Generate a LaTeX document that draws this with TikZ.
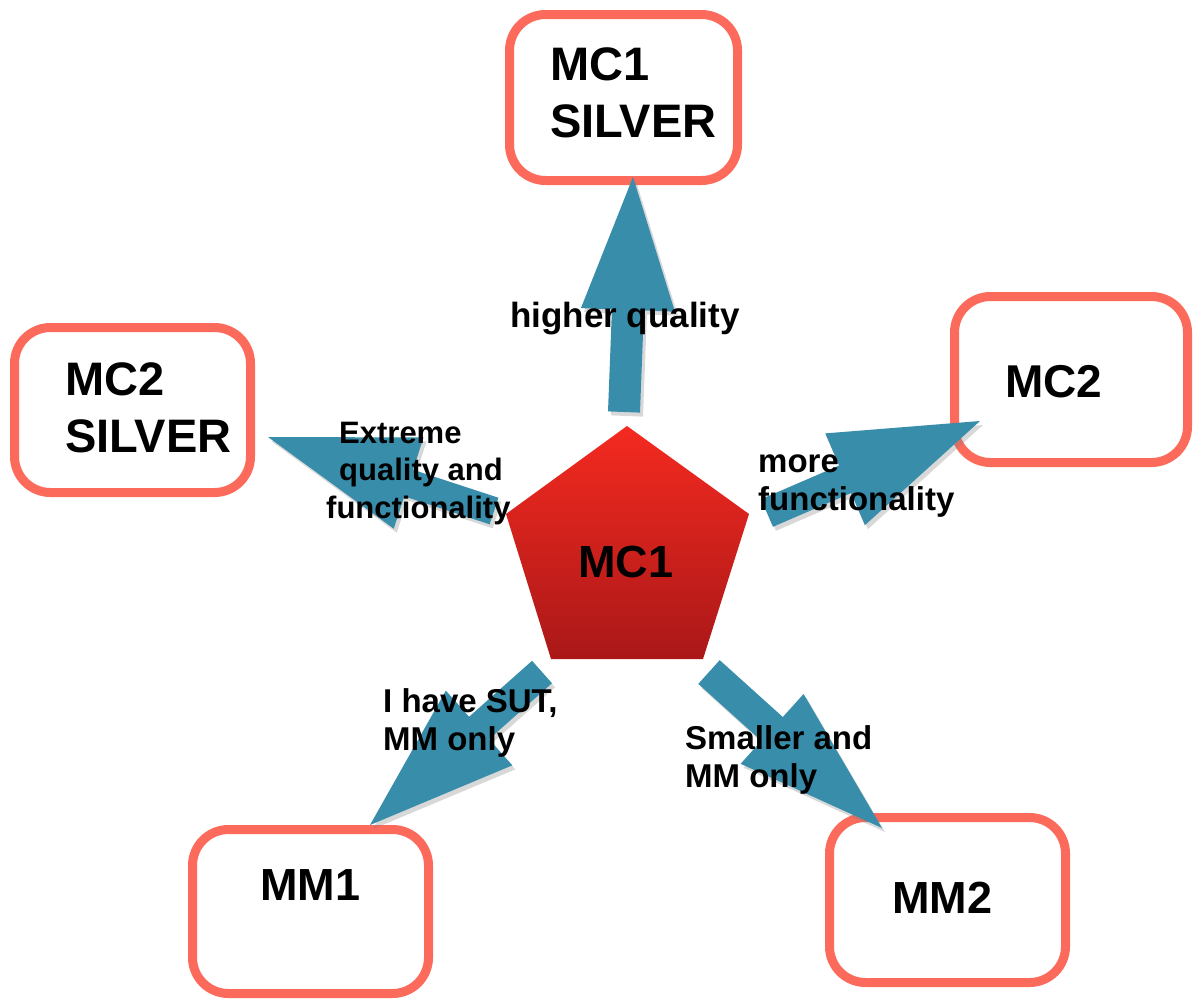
\documentclass[tikz,border=0pt]{standalone}
\usepackage{fontspec}
\setmainfont{Liberation Sans}
\usetikzlibrary{calc,shadows}
\definecolor{boxline}{RGB}{252,106,92}
\definecolor{arrowblue}{RGB}{56,141,170}
\definecolor{pentop}{RGB}{244,42,32}
\definecolor{penbot}{RGB}{170,24,24}
% #1 tail, #2 tip, #3 head length, #4 head half width, #5 shaft half width, #6 name of base point
\newcommand\blockarrow[6]{%
  \coordinate (#6) at ($(#2)!#3!(#1)$);
  \fill[arrowfill] ($(#1)!#5!90:(#2)$) -- ($(#6)!#5!90:(#2)$) -- ($(#6)!#4!90:(#2)$) -- (#2)
     -- ($(#6)!#4!-90:(#2)$) -- ($(#6)!#5!-90:(#2)$) -- ($(#1)!#5!-90:(#2)$) -- cycle;
}
\begin{document}
\begin{tikzpicture}[x=1pt,y=-1pt,
  box/.style={draw=boxline, line width=9pt, rounded corners=36pt, fill=white, inner sep=0pt},
  title/.style={font=\fontsize{45}{57}\selectfont\bfseries, inner sep=0pt, anchor=base west, align=left},
  bigtitle/.style={title, font=\fontsize{47}{57}\selectfont\bfseries},
  lbl/.style={font=\fontsize{33}{38}\selectfont\bfseries, inner sep=0pt, anchor=base west, align=left},
  arrowfill/.style={fill=arrowblue, drop shadow={shadow xshift=3pt, shadow yshift=-4pt, opacity=0.3}}]
\useasboundingbox[fill=white] (0,0) rectangle (1193,999);

% boxes
\node[box, minimum width=228pt, minimum height=166pt] (mc1s) at (623.5,97.5) {};
\node[box, minimum width=236pt, minimum height=165pt] (mc2s) at (132.5,410) {};
\node[box, minimum width=233pt, minimum height=166pt] (mc2) at (1071,379.5) {};
\node[box, minimum width=236pt, minimum height=164pt] (mm1) at (310.5,911.5) {};
\node[box, minimum width=236pt, minimum height=165pt] (mm2) at (947.5,900) {};

% (base anchor of a multi-line node = baseline of its last line)
\node[bigtitle] (t-mc1s) at (550,137) {MC1\\SILVER};
\node[bigtitle] (t-mc2s) at (65,452) {MC2\\SILVER};
\node[title, font=\fontsize{46}{57}\selectfont\bfseries] (t-mc2) at (1005,397) {MC2};
\node[title] (t-mm1) at (260,900) {MM1};
\node[title] (t-mm2) at (892,913) {MM2};

% central pentagon
\coordinate (p1) at (627,426);
\coordinate (p2) at (749,514);
\coordinate (p3) at (703,659);
\coordinate (p4) at (551,659);
\coordinate (p5) at (506,514);
\shade[top color=pentop, bottom color=penbot] (p1) -- (p2) -- (p3) -- (p4) -- (p5) -- cycle;
\node[title] (mc1) at (578,577) {MC1};

% arrows
\coordinate (upS) at (624,412);   \coordinate (upT) at (633,177);
\coordinate (lfS) at (494,511);   \coordinate (lfT) at (268,437);
\coordinate (rtS) at (767,513);   \coordinate (rtT) at (980,421);
\coordinate (llS) at (542,672);   \coordinate (llT) at (370,825);
\coordinate (lrS) at (709,672);   \coordinate (lrT) at (882,828);
\blockarrow{upS}{upT}{133pt}{47pt}{16pt}{upB}
\blockarrow{lfS}{lfT}{148pt}{48pt}{14pt}{lfB}
\blockarrow{rtS}{rtT}{147pt}{50pt}{15pt}{rtB}
\blockarrow{llS}{llT}{146pt}{50pt}{15pt}{llB}
\blockarrow{lrS}{lrT}{148pt}{47pt}{16pt}{lrB}

% labels
\node[lbl, font=\fontsize{35}{38}\selectfont\bfseries] (l-up) at (510,327) {higher quality};
\node[lbl, font=\fontsize{31}{37.5}\selectfont\bfseries] (l-lf) at (326,518) {\hspace*{13pt}Extreme\\\hspace*{13pt}quality and\\functionality};
\node[lbl] (l-rt) at (758,510) {more\\functionality};
\node[lbl] (l-ll) at (383,750) {I have SUT,\\MM only};
\node[lbl] (l-lr) at (685,787) {Smaller and\\MM only};
\end{tikzpicture}
\end{document}
